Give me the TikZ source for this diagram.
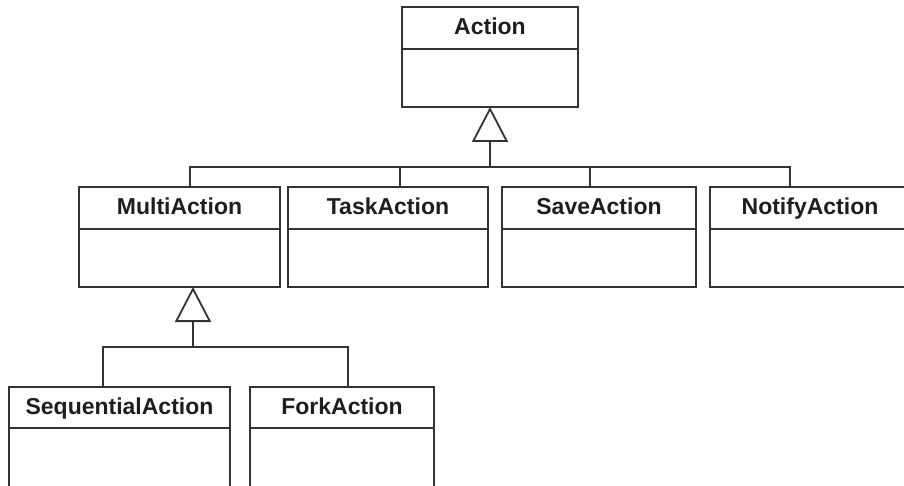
\documentclass[tikz,border=0pt]{standalone}
\usepackage{fontspec}
\setmainfont{Liberation Sans}
\usetikzlibrary{positioning,arrows.meta}
\definecolor{umlline}{HTML}{333333}
\definecolor{umltext}{HTML}{1E1E1E}
\begin{document}
\begin{tikzpicture}[x=1pt,y=-1pt,line width=1.8pt,
  every node/.style={font=\fontsize{23}{27}\selectfont\bfseries,text=umltext,outer sep=0pt},
  head/.style={draw=umlline,minimum height=42pt,inner sep=0pt,text height=16.5pt,text depth=2.5pt},
  body/.style={draw=umlline,minimum height=58pt,inner sep=0pt},
  inherit/.style={draw=umlline,-{Triangle[open,length=35pt,width=36pt,line width=1.8pt]}}]
\useasboundingbox (0,0) rectangle (904,486);
\clip (0,0) rectangle (904,486);
% top class
\node[head,minimum width=176pt] (act) at (490,28) {Action};
\node[body,minimum width=176pt,below=0pt of act] (actb) {};
% second row
\node[head,minimum width=201pt] (multi) at (179.5,208) {MultiAction};
\node[body,minimum width=201pt,below=0pt of multi] (multib) {};
\node[head,minimum width=200pt] (task) at (388,208) {TaskAction};
\node[body,minimum width=200pt,below=0pt of task] (taskb) {};
\node[head,minimum width=194pt] (save) at (599,208) {SaveAction};
\node[body,minimum width=194pt,below=0pt of save] (saveb) {};
\node[head,minimum width=200pt] (notify) at (810,208) {NotifyAction};
\node[body,minimum width=200pt,below=0pt of notify] (notifyb) {};
% third row
\node[head,minimum width=221pt,minimum height=41pt] (seq) at (119.5,407.5) {SequentialAction};
\node[body,minimum width=221pt,minimum height=70pt,below=0pt of seq] (seqb) {};
\node[head,minimum width=184pt,minimum height=41pt] (fork) at (342,407.5) {ForkAction};
\node[body,minimum width=184pt,minimum height=70pt,below=0pt of fork] (forkb) {};
% generalisation Action
\coordinate (busA) at (490,167);
\draw[inherit] (busA) -- (actb.south);
\draw[umlline] ([xshift=10.5pt]multi.north) |- (busA);
\draw[umlline] ([xshift=12pt]task.north) |- (busA);
\draw[umlline] ([xshift=-9pt]save.north) |- (busA);
\draw[umlline] ([xshift=-20pt]notify.north) |- (busA);
% generalisation MultiAction
\coordinate (busM) at (193,347);
\draw[inherit] (busM) -- ([xshift=13.5pt]multib.south);
\draw[umlline] ([xshift=-16.5pt]seq.north) |- (busM);
\draw[umlline] ([xshift=6pt]fork.north) |- (busM);
\end{tikzpicture}
\end{document}
